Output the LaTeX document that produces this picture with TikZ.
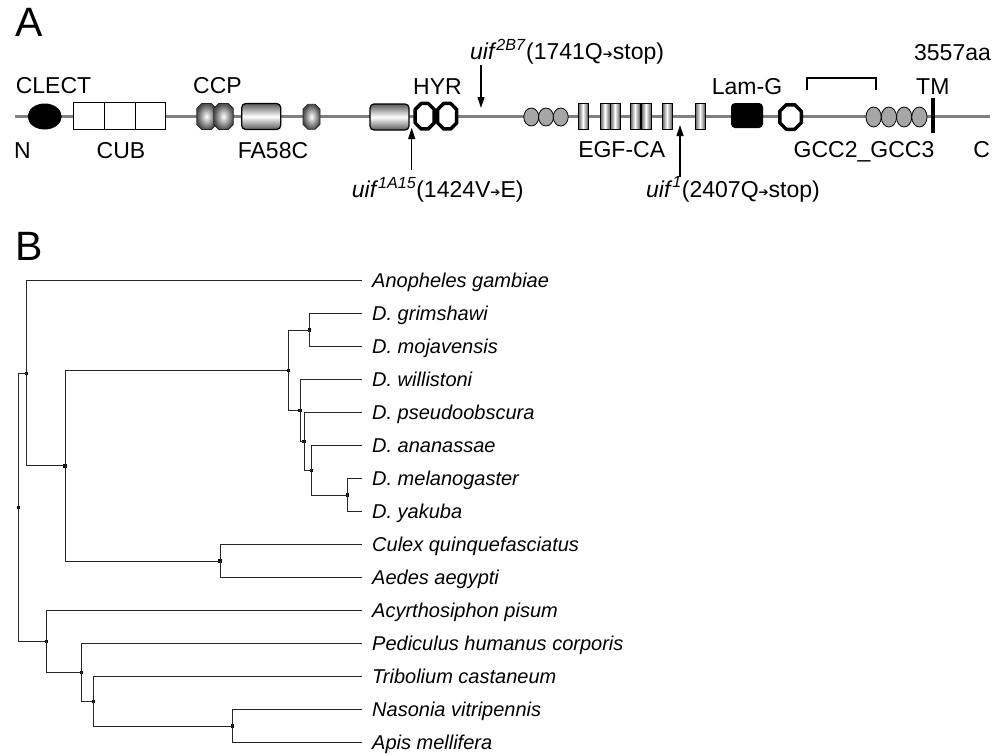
\documentclass[tikz,border=0pt]{standalone}
\usepackage{fontspec}
\setmainfont{Liberation Sans}
\newfontfamily\symfont{DejaVu Sans}
\usetikzlibrary{arrows.meta, shapes.geometric}

\newcommand{\mutarr}{{\symfont\fontsize{12}{12}\selectfont\raisebox{1pt}{➔}}}
% octagonal domain: [style]{centre}{width}{height}{chamfer}
\newcommand{\octabox}[5][]{%
  \path[#1] (#2) ++({-(#3)/2+(#5)},{-(#4)/2}) -- ++({(#3)-2*(#5)},0) -- ++(#5,#5)
    -- ++(0,{(#4)-2*(#5)}) -- ++(-#5,#5) -- ++({-(#3)+2*(#5)},0) -- ++(-#5,-#5)
    -- ++(0,{-(#4)+2*(#5)}) -- cycle;}

\begin{document}
\begin{tikzpicture}[x=1pt, y=-1pt,
    domlabel/.style={font=\fontsize{23}{27}\selectfont, text height=16.5pt, text depth=0pt, inner sep=0pt},
    mutlabel/.style={font=\fontsize{23}{27}\selectfont, inner sep=0pt},
    mut/.style={-{Triangle[length=11pt,width=7pt]}, line width=1.2pt},
    taxon/.style={anchor=west, font=\fontsize{20}{24}\selectfont\itshape, text height=14.3pt, text depth=0pt, inner ysep=0pt, inner xsep=10pt},
    knot/.style={fill=black, minimum size=3.5pt, inner sep=0pt},
    branch/.style={line width=1pt, black!85},
    barrel/.style={draw=black!85, line width=0.8pt, line join=round, inner color=white, outer color=black!70},
    hyrbox/.style={draw=black, line width=3.5pt, line join=round, fill=white},
    cylbox/.style={rectangle, rounded corners=4pt, inner sep=0pt, minimum width=39pt, minimum height=26pt, draw=black, line width=1.2pt, top color=black!65, bottom color=black!65, middle color=white},
    cubbox/.style={rectangle, inner sep=0pt, minimum width=30.6pt, minimum height=27.3pt, draw=black, line width=1pt, fill=white},
    gccball/.style={ellipse, inner sep=0pt, minimum width=15pt, minimum height=19pt, draw=black, line width=0.8pt, fill=black!35},
    egfbox/.style={rectangle, inner sep=0pt, minimum width=10pt, minimum height=26pt, draw=black, line width=0.7pt, left color=black!65, right color=black!65, middle color=white}
  ]
  \useasboundingbox (0,0) rectangle (995,755);

  % panel A: domain structure
  \node[font=\fontsize{41}{45}\selectfont, anchor=base, inner sep=0pt] (pa) at (28.7,36) {A};
  \draw[black!50, line width=3.5pt] (15,116.7) -- (990,116.7);

  \node[ellipse, fill=black, minimum width=34pt, minimum height=26pt, inner sep=0pt] (clect) at (44.7,116.5) {};
  \node[cubbox] (cub1) at (89.2,116.3) {};
  \node[cubbox] (cub2) at (119.7,116.3) {};
  \node[cubbox] (cub3) at (150.3,116.3) {};
  \octabox[barrel]{206.5,116.5}{19.5}{26}{5}
  \octabox[barrel]{223.5,116.5}{19.5}{26}{5}
  \node[cylbox] (fa1) at (261.2,116.5) {};
  \octabox[barrel]{311.5,116.8}{17}{25}{5}
  \node[cylbox] (fa2) at (389.5,117) {};
  \octabox[hyrbox]{424.7,116.2}{19}{25.5}{6}
  \octabox[hyrbox]{447.2,116.2}{19}{25.5}{6}
  \node[gccball, minimum height=18pt] (ca1) at (531.3,117) {};
  \node[gccball, minimum height=18pt] (ca2) at (546,117) {};
  \node[gccball, minimum height=18pt] (ca3) at (560.7,117) {};
  \node[egfbox] (egf1) at (583,116.2) {};
  \node[egfbox] (egf2) at (605,116.2) {};
  \node[egfbox] (egf3) at (615,116.2) {};
  \node[egfbox] (egf4) at (635,116.2) {};
  \node[egfbox] (egf5) at (646,116.2) {};
  \node[egfbox] (egf6) at (667,116.2) {};
  \node[egfbox] (egf7) at (700,116.2) {};
  \node[rectangle, rounded corners=4pt, fill=black, minimum width=32pt, minimum height=25pt, inner sep=0pt] (lamg) at (747,115.5) {};
  \octabox[hyrbox]{790.5,117}{21.5}{24.5}{6.5}
  \node[gccball, minimum width=15.3pt, minimum height=20pt] (gc1) at (873.6,117) {};
  \node[gccball, minimum width=15.3pt, minimum height=20pt] (gc2) at (888.9,117) {};
  \node[gccball, minimum width=15.3pt, minimum height=20pt] (gc3) at (904.1,117) {};
  \node[gccball, minimum width=15.3pt, minimum height=20pt] (gc4) at (919.4,117) {};
  \draw[line width=4pt] (932.7,98) -- (932.7,133);
  \draw[line width=1.5pt] (807,90) -- (807,78) -- (876,78) -- (876,90);

  \node[domlabel] (lclect) at (53.5,85) {CLECT};
  \node[domlabel] (lccp) at (217.5,85) {CCP};
  \node[domlabel] (lhyr) at (437.5,86.7) {HYR};
  \node[domlabel] (llamg) at (747,86.7) {Lam-G};
  \node[domlabel] (ltm) at (932.8,86.7) {TM};
  \node[domlabel] (llen) at (952.5,52) {3557aa};
  \node[domlabel] (ln) at (22.5,150) {N};
  \node[domlabel] (lcub) at (121,150) {CUB};
  \node[domlabel] (lfa) at (273,150) {FA58C};
  \node[domlabel] (legf) at (621.7,148.8) {EGF-CA};
  \node[domlabel] (lgcc) at (864,148.8) {GCC2\_GCC3};
  \node[domlabel] (lc) at (981.7,148.8) {C};

  % mutations
  \node[mutlabel, anchor=base west] (m2b7) at (470,59.3) {\textit{uif}\textsuperscript{\textit{2B7}}(1741Q\mutarr stop)};
  \node[mutlabel, anchor=base west] (m1a15) at (351.7,197.3) {\textit{uif}\textsuperscript{\textit{1A15}}(1424V\mutarr E)};
  \node[mutlabel, anchor=base west] (m1) at (646,197) {\textit{uif}\textsuperscript{\textit{1}}(2407Q\mutarr stop)};
  \coordinate (t2b7) at (481,65);
  \coordinate (h2b7) at (481,108);
  \coordinate (t1a15) at (411.7,170);
  \coordinate (h1a15) at (411.7,128);
  \coordinate (t1) at (680,177);
  \coordinate (h1) at (680,125);
  \draw[mut] (t2b7) -- (h2b7);
  \draw[mut] (t1a15) -- (h1a15);
  \draw[mut] (t1) -- (h1);

  % panel B: tree
  \node[font=\fontsize{41}{45}\selectfont, anchor=base, inner sep=0pt] (pb) at (28.7,260) {B};
  \foreach \tname/\ttext [count=\i from 0] in {anogam/Anopheles gambiae, dgri/D. grimshawi, dmoj/D. mojavensis, dwil/D. willistoni, dpse/D. pseudoobscura, dana/D. ananassae, dmel/D. melanogaster, dyak/D. yakuba, culqui/Culex quinquefasciatus, aedaeg/Aedes aegypti, acypis/Acyrthosiphon pisum, pedhum/Pediculus humanus corporis, tricas/Tribolium castaneum, nasvit/Nasonia vitripennis, apimel/Apis mellifera}
    \node[taxon] (\tname) at (362,{280.7+33*\i}) {\ttext};

  \node[knot] (r0) at (18.3,507.4) {};
  \node[knot] (n1) at (26.7,373.25) {};
  \node[knot] (n2) at (65,465.8) {};
  \node[knot] (n3) at (288.3,370.4) {};
  \node[knot] (n4) at (309.3,330.2) {};
  \node[knot] (n5) at (300,410.6) {};
  \node[knot] (n6) at (304,441.6) {};
  \node[knot] (n7) at (311.7,470.45) {};
  \node[knot] (n8) at (347.7,495.2) {};
  \node[knot] (n9) at (220,561.2) {};
  \node[knot] (n10) at (46.7,641.6) {};
  \node[knot] (n11) at (81.7,672.6) {};
  \node[knot] (n12) at (93.3,701.45) {};
  \node[knot] (n13) at (232.3,726.2) {};

  \draw[branch] (r0.center) |- (n1.center);
  \draw[branch] (r0.center) |- (n10.center);
  \draw[branch] (n1.center) |- (anogam.west);
  \draw[branch] (n1.center) |- (n2.center);
  \draw[branch] (n2.center) |- (n3.center);
  \draw[branch] (n2.center) |- (n9.center);
  \draw[branch] (n3.center) |- (n4.center);
  \draw[branch] (n3.center) |- (n5.center);
  \draw[branch] (n4.center) |- (dgri.west);
  \draw[branch] (n4.center) |- (dmoj.west);
  \draw[branch] (n5.center) |- (dwil.west);
  \draw[branch] (n5.center) |- (n6.center);
  \draw[branch] (n6.center) |- (dpse.west);
  \draw[branch] (n6.center) |- (n7.center);
  \draw[branch] (n7.center) |- (dana.west);
  \draw[branch] (n7.center) |- (n8.center);
  \draw[branch] (n8.center) |- (dmel.west);
  \draw[branch] (n8.center) |- (dyak.west);
  \draw[branch] (n9.center) |- (culqui.west);
  \draw[branch] (n9.center) |- (aedaeg.west);
  \draw[branch] (n10.center) |- (acypis.west);
  \draw[branch] (n10.center) |- (n11.center);
  \draw[branch] (n11.center) |- (pedhum.west);
  \draw[branch] (n11.center) |- (n12.center);
  \draw[branch] (n12.center) |- (tricas.west);
  \draw[branch] (n12.center) |- (n13.center);
  \draw[branch] (n13.center) |- (nasvit.west);
  \draw[branch] (n13.center) |- (apimel.west);
\end{tikzpicture}
\end{document}
